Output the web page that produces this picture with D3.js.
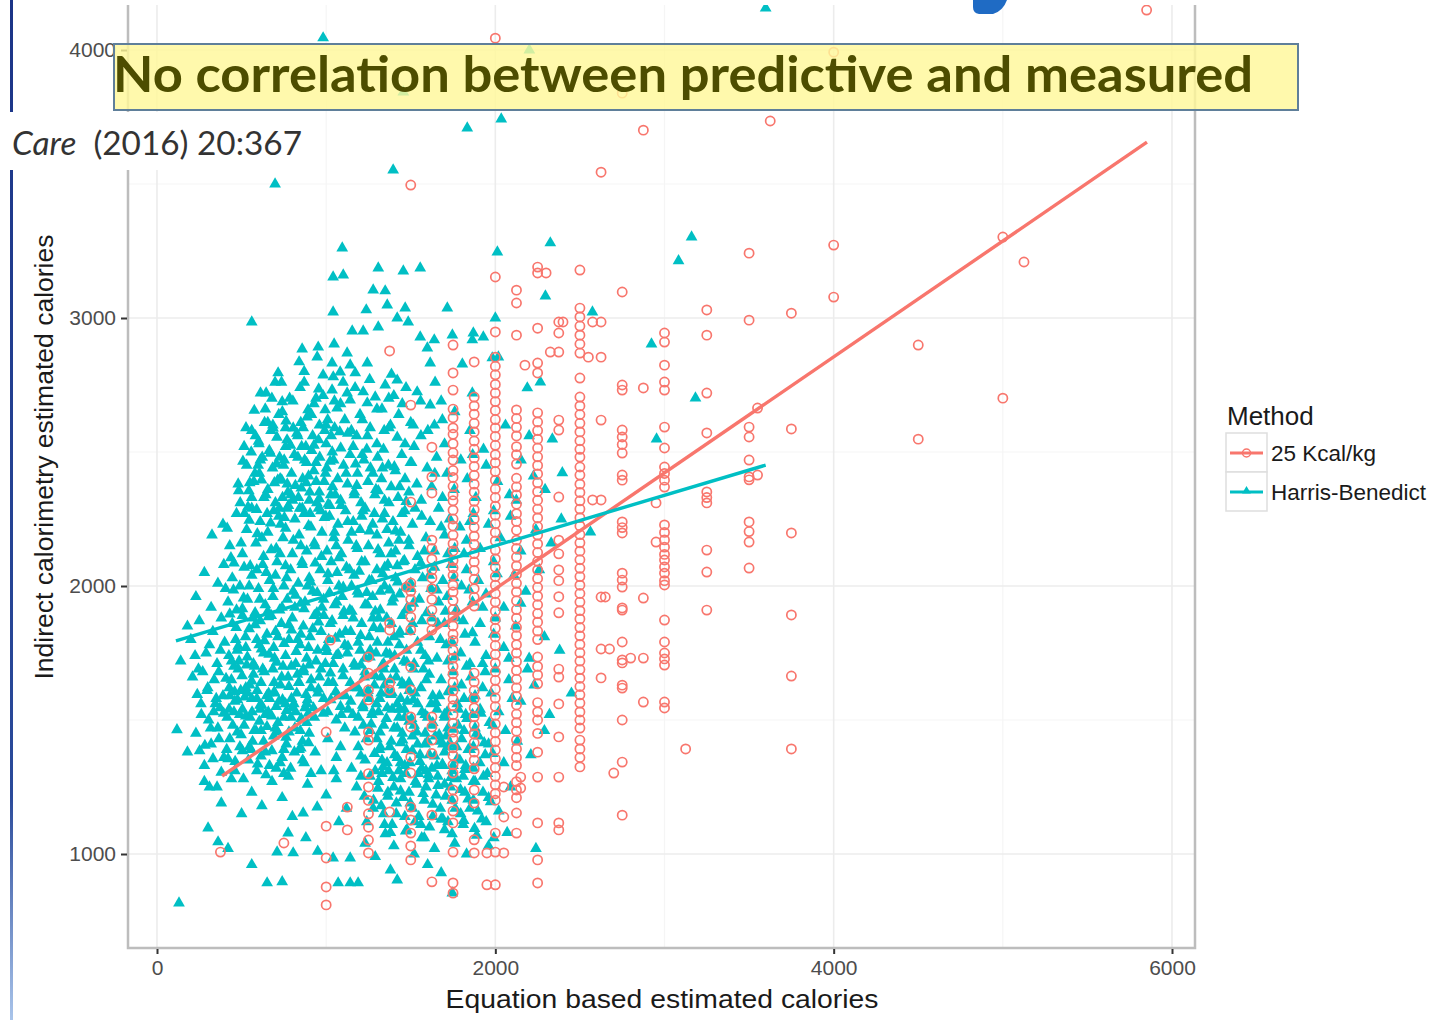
<!DOCTYPE html>
<html>
<head>
<meta charset="utf-8">
<script src="https://cdn.jsdelivr.net/npm/d3@7"></script>
<style>
body { margin: 0; background: #fff; }
svg { display: block; }
</style>
</head>
<body>
<script>
// ticks
var xTicks = [0, 2000, 4000, 6000];
var yTicks = [1000, 2000, 3000, 4000];
var xMinor = [1000, 3000, 5000];
var yMinor = [1500, 2500, 3500];

var methods = ["25 Kcal/kg", "Harris-Benedict"];
var colors = ["#F8766D", "#00BFC4"];

// 25 Kcal/kg : weight based, so the points sit in columns
var kcalX = [1000, 1125, 1250, 1375, 1500, 1625, 1750, 1875, 2000, 2125, 2250, 2375, 2500, 2625, 2750, 2875, 2950, 3000, 3125, 3250, 3500, 3550, 3625, 3750, 4000, 4500, 5000, 5125, 5850];
var kcalY = [
  [1104, 985, 877, 810],
  [1175, 1090],
  [1735, 1675, 1612, 1575, 1455, 1425, 1300, 1250, 1200, 1150, 1100, 1052, 1004],
  [2877, 1862, 1836, 1638, 1612, 1157],
  [3496, 2675, 2313, 2011, 1980, 1950, 1920, 1884, 1836, 1698, 1612, 1511, 1474, 1362, 1302, 1175, 1127, 1078, 1030, 978],
  [2518, 2407, 2347, 2171, 2140, 2100, 2060, 2030, 1990, 1950, 1910, 1870, 1836, 1511, 1474, 1425, 1375, 1145, 896],
  [2899, 2795, 2731, 2660, 2628, 2590, 2566, 2531, 2497, 2470, 2431, 2405, 2372, 2340, 2318, 2283, 2250, 2224, 2190, 2158, 2131, 2095, 2068, 2040, 2003, 1978, 1946, 1912, 1885, 1851, 1820, 1797, 1760, 1731, 1700, 1672, 1641, 1609, 1578, 1553, 1520, 1488, 1455, 1430, 1396, 1367, 1333, 1302, 1239, 1205, 1160, 1116, 1007, 892, 854],
  [2836, 2705, 2672, 2641, 2607, 2575, 2541, 2510, 2478, 2446, 2413, 2380, 2350, 2316, 2285, 2250, 2219, 2186, 2155, 2121, 2090, 2058, 2025, 1990, 1958, 1925, 1675, 1642, 1610, 1580, 1545, 1512, 1480, 1448, 1415, 1380, 1350, 1318, 1239, 1190, 1053, 1004],
  [4044, 3153, 2948, 2854, 2820, 2788, 2752, 2720, 2688, 2655, 2621, 2590, 2558, 2525, 2490, 2460, 2427, 2395, 2362, 2330, 2298, 2264, 2232, 2200, 2168, 2134, 2101, 2070, 2035, 2003, 1972, 1940, 1906, 1875, 1842, 1810, 1778, 1745, 1712, 1680, 1648, 1615, 1582, 1550, 1518, 1485, 1452, 1420, 1388, 1355, 1322, 1290, 1258, 1225, 1201, 1078, 1007, 885],
  [3104, 3056, 2936, 2657, 2625, 2592, 2560, 2520, 2490, 2455, 2402, 2370, 2340, 2305, 2270, 2241, 2208, 2171, 2140, 2108, 2075, 2043, 2010, 1978, 1945, 1912, 1880, 1846, 1815, 1781, 1750, 1718, 1685, 1652, 1620, 1588, 1556, 1522, 1490, 1458, 1425, 1392, 1360, 1330, 1270, 1239, 1210, 1153, 1078],
  [3190, 3168, 2962, 2832, 2795, 2646, 2612, 2580, 2548, 2515, 2482, 2450, 2418, 2385, 2352, 2320, 2287, 2254, 2222, 2190, 2157, 2125, 2092, 2060, 2028, 1995, 1962, 1930, 1897, 1865, 1832, 1800, 1735, 1700, 1668, 1635, 1565, 1530, 1500, 1450, 1380, 1287, 1116, 978, 892],
  [2985, 2944, 2873, 2619, 2582, 2332, 2171, 2120, 2060, 2020, 1960, 1900, 1690, 1660, 1560, 1437, 1287, 1116, 1090],
  [3179, 3037, 3004, 2970, 2936, 2903, 2869, 2776, 2705, 2672, 2640, 2607, 2575, 2542, 2510, 2481, 2444, 2414, 2380, 2349, 2318, 2287, 2255, 2224, 2192, 2161, 2130, 2098, 2066, 2035, 2003, 1972, 1940, 1908, 1877, 1845, 1814, 1782, 1751, 1720, 1688, 1656, 1625, 1594, 1563, 1530, 1500, 1470, 1425, 1392, 1360, 1325],
  [3544, 2985, 2854, 2619, 2321, 1959, 1765, 1657],
  [3839, 3097, 2750, 2731, 2582, 2556, 2528, 2496, 2414, 2395, 2239, 2218, 2198, 2048, 2022, 1996, 1918, 1910, 1791, 1724, 1713, 1630, 1619, 1500, 1343, 1145],
  [3701, 2739, 1955, 1731, 1567],
  [2310, 2164],
  [2944, 2910, 2824, 2761, 2731, 2593, 2515, 2444, 2420, 2395, 2369, 2228, 2200, 2172, 2145, 2118, 2097, 2071, 2048, 2020, 2004, 1873, 1791, 1750, 1728, 1705, 1567, 1545],
  [1392],
  [3030, 2936, 2720, 2571, 2351, 2330, 2310, 2134, 2052, 1910],
  [3242, 2992, 2593, 2556, 2470, 2407, 2396, 2239, 2203, 2164, 2067],
  [2664, 2414],
  [3735],
  [3018, 2586, 2198, 1892, 1664, 1392],
  [3992, 3272, 3078],
  [2899, 2548],
  [3302, 2701],
  [3209],
  [4149]
];
var kcalExtra = [[375, 1007], [750, 1041], [1000, 1455], [1025, 1798], [1475, 1996], [1950, 885], [1950, 1004], [2050, 1004], [2050, 1138], [2050, 1250], [2150, 1287], [2150, 1246], [2325, 2873], [2400, 2985], [2300, 3168], [2175, 2824], [2550, 2854], [2575, 2985], [2575, 2321], [2675, 1765], [2700, 1302], [2650, 1959], [2800, 1731]];

// Harris-Benedict
var hbPoints = [
  [982, 4045], [3598, 4156], [2201, 4000], [1456, 3843], [2035, 3742], [1834, 3709], [698, 3500], [1396, 3552], [1095, 3261], [2012, 3246], [2325, 3280], [3160, 3302], [3083, 3213],
  [560, 2985], [1041, 3153], [1101, 3160], [1308, 3186], [1456, 3175], [1556, 3186], [1278, 3104], [1349, 3101], [1041, 3022], [1237, 3030], [1361, 3048], [1467, 3037], [1308, 2966], [1420, 3000], [1485, 2985], [1154, 2951], [1219, 2951], [1716, 3037], [1556, 2929], [1639, 2918], [1746, 2936], [1870, 2944], [1929, 2929], [1598, 2888], [1864, 2918], [858, 2884], [953, 2891], [1047, 2903], [1124, 2869], [716, 2795], [840, 2836], [947, 2854], [1035, 2832], [1142, 2824], [1243, 2832], [1615, 2832], [1805, 2828], [982, 2787], [1083, 2798], [1172, 2795], [1420, 2768], [1982, 2851], [2189, 2739], [2266, 2761], [1864, 2720], [2000, 3000], [2018, 2854], [2296, 3082], [2574, 3022], [2923, 2903], [3183, 2701], [2953, 2548], [2337, 2548], [2396, 2422], [2562, 2201],
  [740, 2687], [893, 2657], [994, 2657], [1035, 2731], [1124, 2720], [1219, 2724], [1349, 2750], [1538, 2724], [686, 2589], [805, 2589], [1065, 2664], [1142, 2694], [1243, 2683], [1615, 2675], [600, 2540], [760, 2520], [850, 2610], [920, 2560], [960, 2600], [1000, 2530], [1080, 2575], [1110, 2620], [1180, 2560], [1200, 2640], [1260, 2590], [1300, 2530], [1330, 2660], [1380, 2600], [1420, 2555], [1450, 2680], [1500, 2610], [1560, 2560], [1640, 2600], [1700, 2530], [1760, 2650], [1850, 2580], [1930, 2510], [720, 2640], [640, 2660], [1160, 2520], [1290, 2705], [1400, 2710], [1520, 2520], [880, 2520], [1050, 2590], [1680, 2690], [2060, 2600], [2200, 2560], [940, 2700], [1240, 2510],
  [480, 2380], [530, 2450], [560, 2330], [605, 2420], [622, 2480], [655, 2360], [683, 2440], [700, 2310], [728, 2400], [752, 2470], [774, 2350], [795, 2420], [812, 2490], [836, 2330], [861, 2400], [884, 2460], [903, 2350], [927, 2430], [945, 2310], [962, 2480], [988, 2390], [1003, 2440], [1027, 2340], [1044, 2470], [1068, 2400], [1085, 2320], [1103, 2450], [1126, 2380], [1141, 2490], [1167, 2350], [1185, 2420], [1206, 2310], [1223, 2470], [1247, 2390], [1262, 2440], [1288, 2340], [1304, 2480], [1327, 2400], [1345, 2320], [1368, 2450], [1384, 2370], [1409, 2430], [1425, 2330], [1447, 2490], [1466, 2400], [1489, 2350], [1505, 2460], [1536, 2380], [1562, 2320], [1597, 2440], [1624, 2370], [1653, 2480], [1688, 2330], [1714, 2420], [1757, 2360], [1796, 2470], [1834, 2400], [1885, 2330], [1946, 2450], [2013, 2390], [2084, 2340], [2152, 2470], [2226, 2410], [2294, 2360], [572, 2390], [671, 2495], [742, 2330], [853, 2365], [1012, 2305], [1174, 2455], [1333, 2440], [1473, 2315], [1642, 2420], [1866, 2490], [2124, 2320],
  [325, 2190], [390, 2230], [430, 2150], [470, 2270], [505, 2120], [530, 2210], [560, 2290], [585, 2160], [610, 2240], [630, 2110], [655, 2200], [690, 2280], [705, 2140], [730, 2230], [745, 2180], [770, 2290], [800, 2120], [815, 2250], [840, 2190], [870, 2270], [885, 2130], [910, 2220], [930, 2160], [955, 2290], [975, 2200], [1005, 2130], [1020, 2260], [1045, 2180], [1070, 2230], [1090, 2120], [1115, 2280], [1130, 2170], [1160, 2240], [1185, 2140], [1200, 2210], [1230, 2290], [1250, 2150], [1275, 2230], [1300, 2190], [1320, 2120], [1345, 2270], [1370, 2160], [1395, 2240], [1410, 2130], [1440, 2200], [1465, 2280], [1490, 2150], [1510, 2230], [1540, 2110], [1565, 2260], [1590, 2180], [1615, 2240], [1640, 2130], [1665, 2290], [1700, 2190], [1730, 2250], [1760, 2140], [1790, 2220], [1830, 2170], [1870, 2270], [1910, 2140], [1960, 2230], [2030, 2180], [2090, 2260], [2150, 2130], [2240, 2210], [2330, 2160], [2390, 2250], [545, 2245], [675, 2135], [760, 2215], [850, 2150], [990, 2255], [1150, 2200], [1285, 2270], [1430, 2170], [1580, 2130], [1720, 2120], [1850, 2240], [620, 2180], [720, 2260], [905, 2270], [1060, 2150], [1210, 2260], [1360, 2210], [1525, 2290], [1680, 2220], [1815, 2120], [1990, 2280],
  [230, 1960], [280, 2050], [320, 1920], [360, 2010], [395, 2080], [420, 1940], [445, 2030], [470, 1910], [490, 2000], [515, 2070], [535, 1950], [560, 2040], [580, 1900], [600, 1990], [625, 2080], [640, 1930], [665, 2020], [685, 1960], [710, 2090], [725, 1910], [750, 2000], [770, 1950], [790, 2060], [815, 1920], [835, 2010], [860, 2080], [875, 1940], [900, 2030], [920, 1980], [945, 1900], [965, 2060], [985, 1950], [1010, 2020], [1030, 2090], [1050, 1930], [1075, 2000], [1095, 1960], [1120, 2070], [1140, 1910], [1165, 2040], [1185, 1980], [1210, 2090], [1230, 1930], [1255, 2020], [1275, 1960], [1300, 2060], [1320, 1910], [1345, 2000], [1365, 2080], [1390, 1940], [1410, 2030], [1435, 1970], [1455, 2090], [1480, 1920], [1500, 2010], [1525, 2060], [1550, 1950], [1570, 2030], [1595, 1900], [1620, 1990], [1640, 2070], [1665, 1940], [1690, 2020], [1715, 1960], [1740, 2080], [1770, 1910], [1800, 2000], [1830, 2060], [1865, 1940], [1900, 2020], [1945, 1970], [1990, 2090], [2050, 1920], [2110, 2040], [2180, 1980], [2260, 2060], [405, 1990], [455, 2085], [505, 1915], [545, 2000], [590, 2060], [655, 1905], [700, 2040], [760, 2075], [805, 1980], [850, 1935], [890, 2000], [935, 2085], [975, 1920], [1020, 1975], [1065, 2050], [1105, 1905], [1150, 2000], [1195, 2055], [1240, 1975], [1290, 1905], [1335, 2045], [1375, 1985], [1420, 2075], [1470, 1995], [1515, 1935], [1560, 2085], [1610, 2040], [1655, 1985], [1705, 1905], [1755, 2030], [1845, 1985], [1925, 1920], [2010, 2045], [2150, 1935],
  [140, 1720], [200, 1800], [250, 1870], [290, 1750], [330, 1830], [355, 1710], [380, 1880], [400, 1790], [425, 1740], [445, 1860], [465, 1800], [485, 1720], [505, 1890], [525, 1770], [545, 1840], [570, 1710], [590, 1800], [610, 1870], [630, 1750], [650, 1820], [675, 1890], [695, 1730], [715, 1810], [735, 1860], [760, 1740], [780, 1800], [800, 1880], [820, 1710], [845, 1780], [865, 1850], [885, 1730], [905, 1810], [930, 1890], [950, 1760], [970, 1830], [995, 1710], [1015, 1800], [1035, 1870], [1060, 1740], [1080, 1820], [1100, 1890], [1125, 1750], [1145, 1830], [1165, 1710], [1190, 1790], [1210, 1860], [1230, 1730], [1255, 1810], [1275, 1880], [1295, 1750], [1320, 1840], [1340, 1710], [1365, 1790], [1385, 1860], [1405, 1740], [1430, 1820], [1450, 1890], [1475, 1760], [1495, 1830], [1520, 1710], [1540, 1790], [1565, 1870], [1585, 1740], [1610, 1810], [1630, 1880], [1655, 1730], [1675, 1800], [1700, 1860], [1720, 1720], [1745, 1790], [1770, 1880], [1795, 1750], [1820, 1820], [1850, 1710], [1880, 1790], [1910, 1860], [1945, 1740], [1990, 1820], [2050, 1770], [2120, 1850], [2200, 1730], [2290, 1810], [2380, 1760], [375, 1760], [430, 1895], [480, 1775], [530, 1705], [580, 1855], [635, 1795], [690, 1770], [745, 1700], [795, 1835], [850, 1820], [900, 1705], [955, 1865], [1005, 1755], [1055, 1805], [1110, 1780], [1160, 1880], [1205, 1705], [1260, 1760], [1310, 1880], [1355, 1750], [1400, 1810], [1460, 1720], [1510, 1860], [1560, 1760], [1605, 1720], [1660, 1860], [1710, 1780], [1760, 1735], [1810, 1870], [1865, 1825], [1925, 1710], [2000, 1880], [2080, 1730], [310, 1780], [225, 1740], [180, 1850],
  [210, 1660], [260, 1560], [300, 1620], [335, 1530], [365, 1680], [390, 1590], [415, 1510], [440, 1650], [460, 1570], [480, 1690], [505, 1540], [525, 1620], [550, 1510], [570, 1670], [590, 1580], [615, 1640], [640, 1520], [660, 1600], [685, 1690], [705, 1550], [730, 1630], [750, 1510], [775, 1660], [795, 1580], [820, 1530], [840, 1640], [865, 1690], [885, 1560], [910, 1620], [930, 1510], [960, 1660], [985, 1580], [1010, 1530], [1040, 1640], [1070, 1590], [1100, 1690], [1130, 1540], [1160, 1620], [1190, 1510], [1225, 1660], [1255, 1580], [1285, 1630], [1310, 1530], [1340, 1690], [1365, 1600], [1390, 1540], [1415, 1660], [1440, 1580], [1465, 1510], [1490, 1640], [1515, 1690], [1540, 1560], [1560, 1620], [1585, 1520], [1610, 1670], [1630, 1590], [1655, 1540], [1680, 1650], [1700, 1510], [1725, 1610], [1750, 1680], [1775, 1560], [1800, 1630], [1825, 1520], [1855, 1660], [1880, 1590], [1910, 1540], [1940, 1680], [1975, 1600], [2020, 1530], [2080, 1650], [2150, 1570], [2230, 1630], [2320, 1520], [2450, 1600], [430, 1590], [495, 1610], [560, 1580], [625, 1690], [695, 1600], [760, 1560], [830, 1670], [895, 1525], [950, 1600], [1025, 1675], [1090, 1520], [1145, 1570], [1205, 1600], [1270, 1520], [1325, 1600], [1380, 1650], [1430, 1510], [1480, 1570], [1525, 1600], [1575, 1690], [1620, 1560], [1670, 1590], [1715, 1530], [1760, 1620], [1815, 1580], [1865, 1520], [1925, 1620], [2000, 1690], [2100, 1580], [2190, 1690], [350, 1580], [455, 1700], [610, 1540], [1060, 1500], [1600, 1510], [1830, 1700], [270, 1680],
  [118, 1463], [180, 1380], [230, 1450], [280, 1330], [320, 1410], [360, 1470], [395, 1360], [430, 1430], [460, 1310], [490, 1400], [515, 1480], [540, 1350], [565, 1420], [590, 1310], [615, 1460], [640, 1380], [665, 1330], [690, 1440], [715, 1490], [740, 1360], [765, 1410], [790, 1320], [815, 1470], [840, 1390], [870, 1340], [900, 1450], [935, 1380], [970, 1310], [1010, 1430], [1060, 1360], [1110, 1470], [1150, 1320], [1190, 1400], [1230, 1350], [1260, 1460], [1290, 1310], [1315, 1390], [1340, 1480], [1360, 1340], [1385, 1420], [1405, 1370], [1430, 1310], [1450, 1450], [1475, 1390], [1495, 1340], [1520, 1480], [1540, 1410], [1565, 1320], [1585, 1450], [1610, 1370], [1630, 1490], [1655, 1330], [1675, 1420], [1700, 1380], [1720, 1470], [1745, 1310], [1770, 1400], [1790, 1350], [1815, 1460], [1840, 1390], [1870, 1320], [1900, 1440], [1940, 1370], [1985, 1480], [2050, 1340], [2130, 1420], [2210, 1370], [2290, 1460], [475, 1455], [555, 1390], [605, 1495], [705, 1320], [780, 1455], [860, 1420], [1085, 1400], [1220, 1480], [1300, 1430], [1370, 1310], [1420, 1470], [1465, 1330], [1510, 1440], [1555, 1370], [1600, 1420], [1645, 1440], [1690, 1330], [1735, 1410], [1780, 1480], [1825, 1330], [1880, 1470], [1960, 1410], [2060, 1460], [650, 1475], [750, 1300], [885, 1490], [1045, 1310], [1170, 1455], [1330, 1350], [1440, 1415], [1590, 1310], [1710, 1440],
  [302, 1097], [361, 1045], [310, 1250], [380, 1190], [440, 1280], [500, 1150], [560, 1230], [620, 1180], [680, 1270], [740, 1210], [800, 1140], [864, 1153], [947, 1175], [890, 1260], [1000, 1220], [1060, 1280], [1120, 1170], [1180, 1250], [1240, 1120], [1280, 1200], [1310, 1270], [1340, 1150], [1365, 1230], [1390, 1110], [1415, 1190], [1440, 1280], [1465, 1140], [1490, 1230], [1510, 1170], [1535, 1260], [1560, 1110], [1580, 1200], [1605, 1280], [1630, 1140], [1650, 1220], [1675, 1170], [1700, 1260], [1720, 1120], [1745, 1200], [1770, 1280], [1795, 1150], [1820, 1230], [1850, 1170], [1880, 1270], [1920, 1130], [1960, 1210], [2020, 1160], [2090, 1250], [1330, 1300], [1400, 1250], [1455, 1210], [1525, 1120], [1590, 1250], [1660, 1290], [1735, 1250], [1810, 1110], [1870, 1200], [1325, 1180], [1545, 1300], [1690, 1130], [1075, 1120], [1205, 1290],
  [130, 817], [651, 892], [740, 896], [1071, 892], [1142, 892], [1189, 892], [1420, 903], [1746, 854], [710, 1007], [805, 1004], [775, 1078], [1041, 985], [1142, 985], [420, 1020], [560, 960], [880, 1060], [950, 1010], [1230, 1040], [1290, 990], [1350, 1075], [1400, 1030], [1470, 1085], [1520, 1000], [1580, 1060], [1640, 1020], [1700, 1090], [1760, 1040], [1830, 1000], [1890, 1070], [1960, 1030], [2070, 1080], [2240, 1020], [1600, 960], [1380, 940], [1680, 930],
  [415, 2215], [437, 2105], [452, 1985], [468, 1845], [483, 2355], [497, 2160], [512, 1955], [523, 1810], [538, 2295], [551, 2075], [566, 1880], [579, 2420], [593, 2195], [607, 1950], [618, 1765], [632, 2330], [646, 2050], [659, 1885], [672, 2235], [688, 1990], [701, 1830], [714, 2395], [727, 2120], [739, 1920], [753, 2255], [766, 2030], [779, 1855], [792, 2340], [806, 2170], [818, 1965], [831, 1800], [844, 2290], [857, 2090], [869, 1915], [882, 2385], [896, 2225], [908, 2015], [921, 1840], [934, 2150], [947, 1975], [959, 2325], [972, 2110], [986, 1890], [998, 2260], [1011, 2045], [1024, 1860], [1037, 2370], [1049, 2200], [1062, 1940], [1076, 2105], [1088, 2300], [1101, 1995], [1114, 1830], [1127, 2240], [1139, 2060], [1152, 1905], [1166, 2340], [1178, 2150], [1191, 1970], [1204, 1815], [1217, 2280], [1229, 2090], [1243, 1930], [1256, 2205], [1269, 2020], [1281, 1845], [1294, 2360], [1307, 2135], [1320, 1980], [1333, 2250], [1346, 2070], [1358, 1880], [1371, 2310], [1384, 2120], [1397, 1955], [1410, 2205], [1423, 2015], [1436, 1830], [1449, 2270], [1462, 2095], [1475, 1910], [1488, 2170], [1500, 1990],
  [408, 1655], [426, 1540], [441, 1720], [459, 1605], [474, 1760], [489, 1520], [503, 1665], [518, 1585], [534, 1735], [548, 1630], [562, 1530], [577, 1700], [592, 1610], [604, 1780], [619, 1555], [634, 1680], [649, 1590], [663, 1745], [678, 1515], [692, 1640], [707, 1715], [721, 1570], [737, 1660], [751, 1785], [766, 1535], [780, 1625], [794, 1700], [809, 1560], [823, 1755], [838, 1640], [852, 1505], [867, 1680], [881, 1595], [896, 1770], [911, 1650], [925, 1545], [940, 1720], [954, 1615], [969, 1690], [983, 1525], [998, 1770], [1013, 1640], [1027, 1575], [1042, 1710], [1056, 1605], [1071, 1745], [1085, 1550], [1100, 1665], [1114, 1590], [1129, 1775], [1143, 1640], [1158, 1520], [1172, 1700], [1187, 1620], [1201, 1760], [1216, 1555], [1230, 1680], [1245, 1600], [1259, 1735], [1274, 1530], [1288, 1665], [1303, 1790], [1317, 1580], [1332, 1705], [1346, 1630], [1361, 1545], [1375, 1745], [1390, 1600], [1404, 1690], [1419, 1560], [1433, 1780], [1448, 1640], [1462, 1540], [1477, 1715], [1491, 1610],
  [515, 2520], [548, 2385], [582, 2560], [611, 2470], [643, 2340], [674, 2580], [706, 2455], [737, 2395], [769, 2545], [801, 2320], [833, 2480], [864, 2590], [896, 2410], [928, 2525], [959, 2350], [991, 2580], [1023, 2465], [1054, 2340], [1086, 2515], [1118, 2420], [1149, 2580], [1181, 2375], [1213, 2490], [1244, 2560], [1276, 2420], [1308, 2355], [1339, 2510], [1371, 2590], [1403, 2445], [1434, 2370], [1466, 2530], [1498, 2460],
  [1205, 1365], [1218, 1545], [1226, 1215], [1238, 1430], [1247, 1610], [1259, 1290], [1266, 1485], [1278, 1170], [1286, 1375], [1297, 1560], [1306, 1245], [1318, 1455], [1326, 1660], [1337, 1325], [1345, 1110], [1356, 1505], [1364, 1215], [1376, 1400], [1383, 1595], [1395, 1285], [1402, 1470], [1414, 1150], [1421, 1360], [1433, 1540], [1440, 1235], [1452, 1425], [1459, 1630], [1471, 1300], [1478, 1090], [1490, 1495], [1497, 1190], [1509, 1385], [1516, 1575], [1528, 1270], [1535, 1455], [1547, 1140], [1554, 1345], [1566, 1530], [1573, 1225], [1585, 1410], [1592, 1650], [1604, 1295], [1611, 1100], [1623, 1480], [1630, 1185], [1642, 1365], [1649, 1565], [1661, 1255], [1668, 1445], [1680, 1130], [1687, 1335], [1699, 1520], [1706, 1215], [1718, 1400], [1725, 1605], [1737, 1285], [1744, 1075], [1756, 1465], [1763, 1170], [1775, 1355], [1782, 1540], [1794, 1240], [1801, 1430], [1813, 1125], [1820, 1315], [1832, 1505], [1839, 1205], [1851, 1390], [1858, 1580], [1870, 1270], [1877, 1095], [1889, 1450], [1896, 1160], [1908, 1340], [1915, 1525], [1927, 1230], [1934, 1415], [1946, 1120], [1953, 1300], [1965, 1490], [1972, 1195], [1984, 1375], [1991, 1060], [1320, 1400], [1380, 1080], [1440, 1340], [1505, 1505], [1565, 1060], [1625, 1320], [1690, 1410], [1750, 1330], [1810, 1290], [1870, 1400], [1930, 1290],
  [262, 1520], [283, 1405], [296, 1610], [317, 1470], [331, 1355], [345, 1560], [366, 1430], [380, 1305], [394, 1525], [412, 1390], [427, 1620], [448, 1480], [462, 1345], [476, 1575], [497, 1445], [511, 1280], [525, 1515], [546, 1400], [560, 1645], [574, 1460], [595, 1335], [609, 1555], [630, 1420], [644, 1295], [658, 1530], [679, 1385], [693, 1605], [714, 1455], [728, 1340], [742, 1575], [763, 1435], [777, 1290], [791, 1510], [812, 1380], [826, 1600], [847, 1460], [861, 1350], [875, 1545], [896, 1415], [910, 1300], [238, 1595], [252, 1385], [305, 1500], [338, 1650], [372, 1545], [420, 1355], [455, 1530], [505, 1385], [535, 1600], [585, 1460], [615, 1365], [665, 1580], [700, 1470], [750, 1390], [800, 1545], [850, 1395], [890, 1575], [245, 1690], [280, 1270], [355, 1250],
  [612, 2720], [655, 2610], [698, 2760], [741, 2650], [784, 2700], [827, 2570], [870, 2760], [913, 2640], [956, 2735], [999, 2600], [1042, 2780], [1085, 2680], [1128, 2570], [1171, 2740], [1214, 2620], [1257, 2770], [1300, 2660], [1343, 2580], [1386, 2790], [1429, 2640], [1472, 2740], [1515, 2600], [1558, 2690], [1601, 2580], [1644, 2760], [1687, 2620], [870, 2800], [1100, 2760], [1370, 2700], [760, 2590],
  [492, 2310], [508, 2465], [526, 2590], [543, 2355], [557, 2500], [575, 2655], [589, 2285], [603, 2530], [618, 2395], [636, 2610], [651, 2270], [664, 2505], [679, 2700], [694, 2385], [709, 2555], [723, 2290], [736, 2760], [748, 2450], [763, 2615], [777, 2300], [789, 2525], [803, 2690], [818, 2375], [832, 2560], [846, 2740], [859, 2290], [873, 2470], [887, 2630], [900, 2320], [914, 2505], [928, 2680], [941, 2390], [955, 2545], [969, 2280], [982, 2710], [996, 2420], [1009, 2620], [1022, 2300], [1036, 2500], [1049, 2690], [517, 2270], [598, 2450], [685, 2600], [770, 2380], [855, 2520], [940, 2460], [1030, 2560], [560, 2580], [645, 2720], [725, 2480]
];

// fitted lines (lm) for each method, end points
var kcalFit = [[385, 1291], [5852, 3656]];
var hbFit = [[112, 1795], [3598, 2451]];

var W = 1437, H = 1020;
var panel = {left: 128, right: 1195, top: 5, bottom: 948};

var xScale = d3.scaleLinear().domain([0, 6000]).range([157, 1172]);
var yScale = d3.scaleLinear().domain([1000, 4000]).range([854, 50]);

var svg = d3.select("body").append("svg")
  .attr("width", W)
  .attr("height", H)
  .style("font-family", "'Liberation Sans', Arial, sans-serif");

svg.append("rect").attr("width", W).attr("height", H).attr("fill", "#fff");

svg.append("clipPath").attr("id", "clip")
  .append("rect")
  .attr("x", panel.left).attr("y", panel.top)
  .attr("width", panel.right - panel.left).attr("height", panel.bottom - panel.top);

// grid
var grid = svg.append("g");
grid.selectAll(".vmin").data(xMinor).enter().append("line")
  .attr("x1", function(d) { return xScale(d); }).attr("x2", function(d) { return xScale(d); })
  .attr("y1", panel.top).attr("y2", panel.bottom)
  .attr("stroke", "#f5f5f5").attr("stroke-width", 1.2);
grid.selectAll(".hmin").data(yMinor).enter().append("line")
  .attr("y1", function(d) { return yScale(d); }).attr("y2", function(d) { return yScale(d); })
  .attr("x1", panel.left).attr("x2", panel.right)
  .attr("stroke", "#f5f5f5").attr("stroke-width", 1.2);
grid.selectAll(".vmaj").data(xTicks).enter().append("line")
  .attr("x1", function(d) { return xScale(d); }).attr("x2", function(d) { return xScale(d); })
  .attr("y1", panel.top).attr("y2", panel.bottom)
  .attr("stroke", "#ececec").attr("stroke-width", 1.6);
grid.selectAll(".hmaj").data(yTicks).enter().append("line")
  .attr("y1", function(d) { return yScale(d); }).attr("y2", function(d) { return yScale(d); })
  .attr("x1", panel.left).attr("x2", panel.right)
  .attr("stroke", "#ececec").attr("stroke-width", 1.6);

// points
var plot = svg.append("g").attr("clip-path", "url(#clip)");

var tri = d3.symbol().type(d3.symbolTriangle).size(60);
plot.append("g").selectAll("path").data(hbPoints).enter().append("path")
  .attr("d", tri)
  .attr("transform", function(d) { return "translate(" + xScale(d[0]) + "," + yScale(d[1]) + ")"; })
  .attr("fill", colors[1]);

var kcalPoints = [];
kcalX.forEach(function(x, i) {
  kcalY[i].forEach(function(y) { kcalPoints.push([x, y]); });
});
kcalPoints = kcalPoints.concat(kcalExtra);

plot.append("g").selectAll("circle").data(kcalPoints).enter().append("circle")
  .attr("cx", function(d) { return xScale(d[0]); })
  .attr("cy", function(d) { return yScale(d[1]); })
  .attr("r", 4.6)
  .attr("fill", "none")
  .attr("stroke", colors[0])
  .attr("stroke-width", 1.7);

var line = d3.line().x(function(d) { return xScale(d[0]); }).y(function(d) { return yScale(d[1]); });
plot.append("path").datum(kcalFit).attr("d", line)
  .attr("stroke", colors[0]).attr("stroke-width", 3.4).attr("fill", "none");
plot.append("path").datum(hbFit).attr("d", line)
  .attr("stroke", colors[1]).attr("stroke-width", 3.4).attr("fill", "none");

// panel border (top is cut off)
svg.append("path")
  .attr("d", "M" + panel.left + "," + panel.top + "V" + panel.bottom + "H" + panel.right + "V" + panel.top)
  .attr("fill", "none").attr("stroke", "#bdbdbd").attr("stroke-width", 2.5);

// axes
var xAxis = svg.append("g").attr("transform", "translate(0," + (panel.bottom + 1) + ")")
  .call(d3.axisBottom(xScale).tickValues(xTicks).tickSize(5).tickPadding(6).tickFormat(d3.format("d")));
var yAxis = svg.append("g").attr("transform", "translate(" + (panel.left - 1) + ",0)")
  .call(d3.axisLeft(yScale).tickValues(yTicks).tickSize(6).tickPadding(5).tickFormat(d3.format("d")));
[xAxis, yAxis].forEach(function(ax) {
  ax.select(".domain").remove();
  ax.selectAll(".tick line").attr("stroke", "#333").attr("stroke-width", 2);
  ax.selectAll(".tick text").attr("fill", "#4d4d4d").style("font-size", "21px")
    .style("font-family", "'Liberation Sans', Arial, sans-serif");
});

svg.append("text")
  .attr("x", 662).attr("y", 1008)
  .attr("text-anchor", "middle")
  .attr("fill", "#1a1a1a")
  .attr("textLength", 433).attr("lengthAdjust", "spacingAndGlyphs")
  .style("font-size", "26.5px")
  .text("Equation based estimated calories");

svg.append("text")
  .attr("transform", "translate(53,457) rotate(-90)")
  .attr("text-anchor", "middle")
  .attr("fill", "#1a1a1a")
  .attr("textLength", 445).attr("lengthAdjust", "spacingAndGlyphs")
  .style("font-size", "26.5px")
  .text("Indirect calorimetry estimated calories");

// legend
var legend = svg.append("g");
legend.append("text").attr("x", 1227).attr("y", 425)
  .attr("fill", "#1a1a1a").style("font-size", "26px").text("Method");
methods.forEach(function(m, i) {
  var y0 = 433 + i * 39;
  var g = legend.append("g").attr("transform", "translate(1226," + y0 + ")");
  g.append("rect").attr("width", 41).attr("height", 39)
    .attr("fill", "#fff").attr("stroke", "#dedede").attr("stroke-width", 1.5);
  g.append("line").attr("x1", 4).attr("x2", 37).attr("y1", 20).attr("y2", 20)
    .attr("stroke", colors[i]).attr("stroke-width", 3.2);
  if (i == 0) {
    g.append("circle").attr("cx", 20.5).attr("cy", 20).attr("r", 4)
      .attr("fill", "none").attr("stroke", colors[i]).attr("stroke-width", 1.5);
  } else {
    g.append("path").attr("d", tri).attr("transform", "translate(20.5,19) scale(0.75)").attr("fill", colors[i]);
  }
  legend.append("text").attr("x", 1271).attr("y", y0 + 28)
    .attr("fill", "#1a1a1a").style("font-size", "22.5px").text(m);
});

// slide overlay
var slideLine = svg.append("defs").append("linearGradient")
  .attr("id", "slideLine").attr("x1", 0).attr("x2", 0).attr("y1", 0).attr("y2", 1);
slideLine.append("stop").attr("offset", "0").attr("stop-color", "#1b3487");
slideLine.append("stop").attr("offset", "0.78").attr("stop-color", "#2a4a9a");
slideLine.append("stop").attr("offset", "1").attr("stop-color", "#a9c4ea");
svg.append("rect").attr("x", 10).attr("y", 0).attr("width", 3).attr("height", H)
  .attr("fill", "url(#slideLine)");

svg.append("rect").attr("x", 0).attr("y", 112).attr("width", 322).attr("height", 58).attr("fill", "#fff");
svg.append("text").attr("x", 12).attr("y", 155)
  .attr("fill", "#333")
  .style("font-family", "Lato, 'Open Sans', sans-serif").style("font-size", "33px")
  .attr("textLength", 290).attr("lengthAdjust", "spacingAndGlyphs")
  .call(function(t) {
    t.append("tspan").style("font-style", "italic").text("Care");
    t.append("tspan").text("\u00a0 (2016) 20:367");
  });

svg.append("rect").attr("x", 114).attr("y", 44).attr("width", 1184).attr("height", 66)
  .attr("fill", "#fff89a").attr("fill-opacity", 0.82)
  .attr("stroke", "#5f7f9a").attr("stroke-width", 2);
svg.append("text").attr("x", 113).attr("y", 92)
  .attr("fill", "#4d4d00")
  .style("font-family", "Lato, 'Open Sans', sans-serif").style("font-weight", "bold").style("font-size", "50px")
  .attr("textLength", 1140).attr("lengthAdjust", "spacingAndGlyphs")
  .text("No correlation between predictive and measured");

// tail of the slide title letter that is cut off by the top edge
svg.append("path")
  .attr("d", "M973,0 H1007 Q1003,11 993,14 H979 Q973,13 973,7 Z")
  .attr("fill", "#1f6bc4");
</script>
</body>
</html>
